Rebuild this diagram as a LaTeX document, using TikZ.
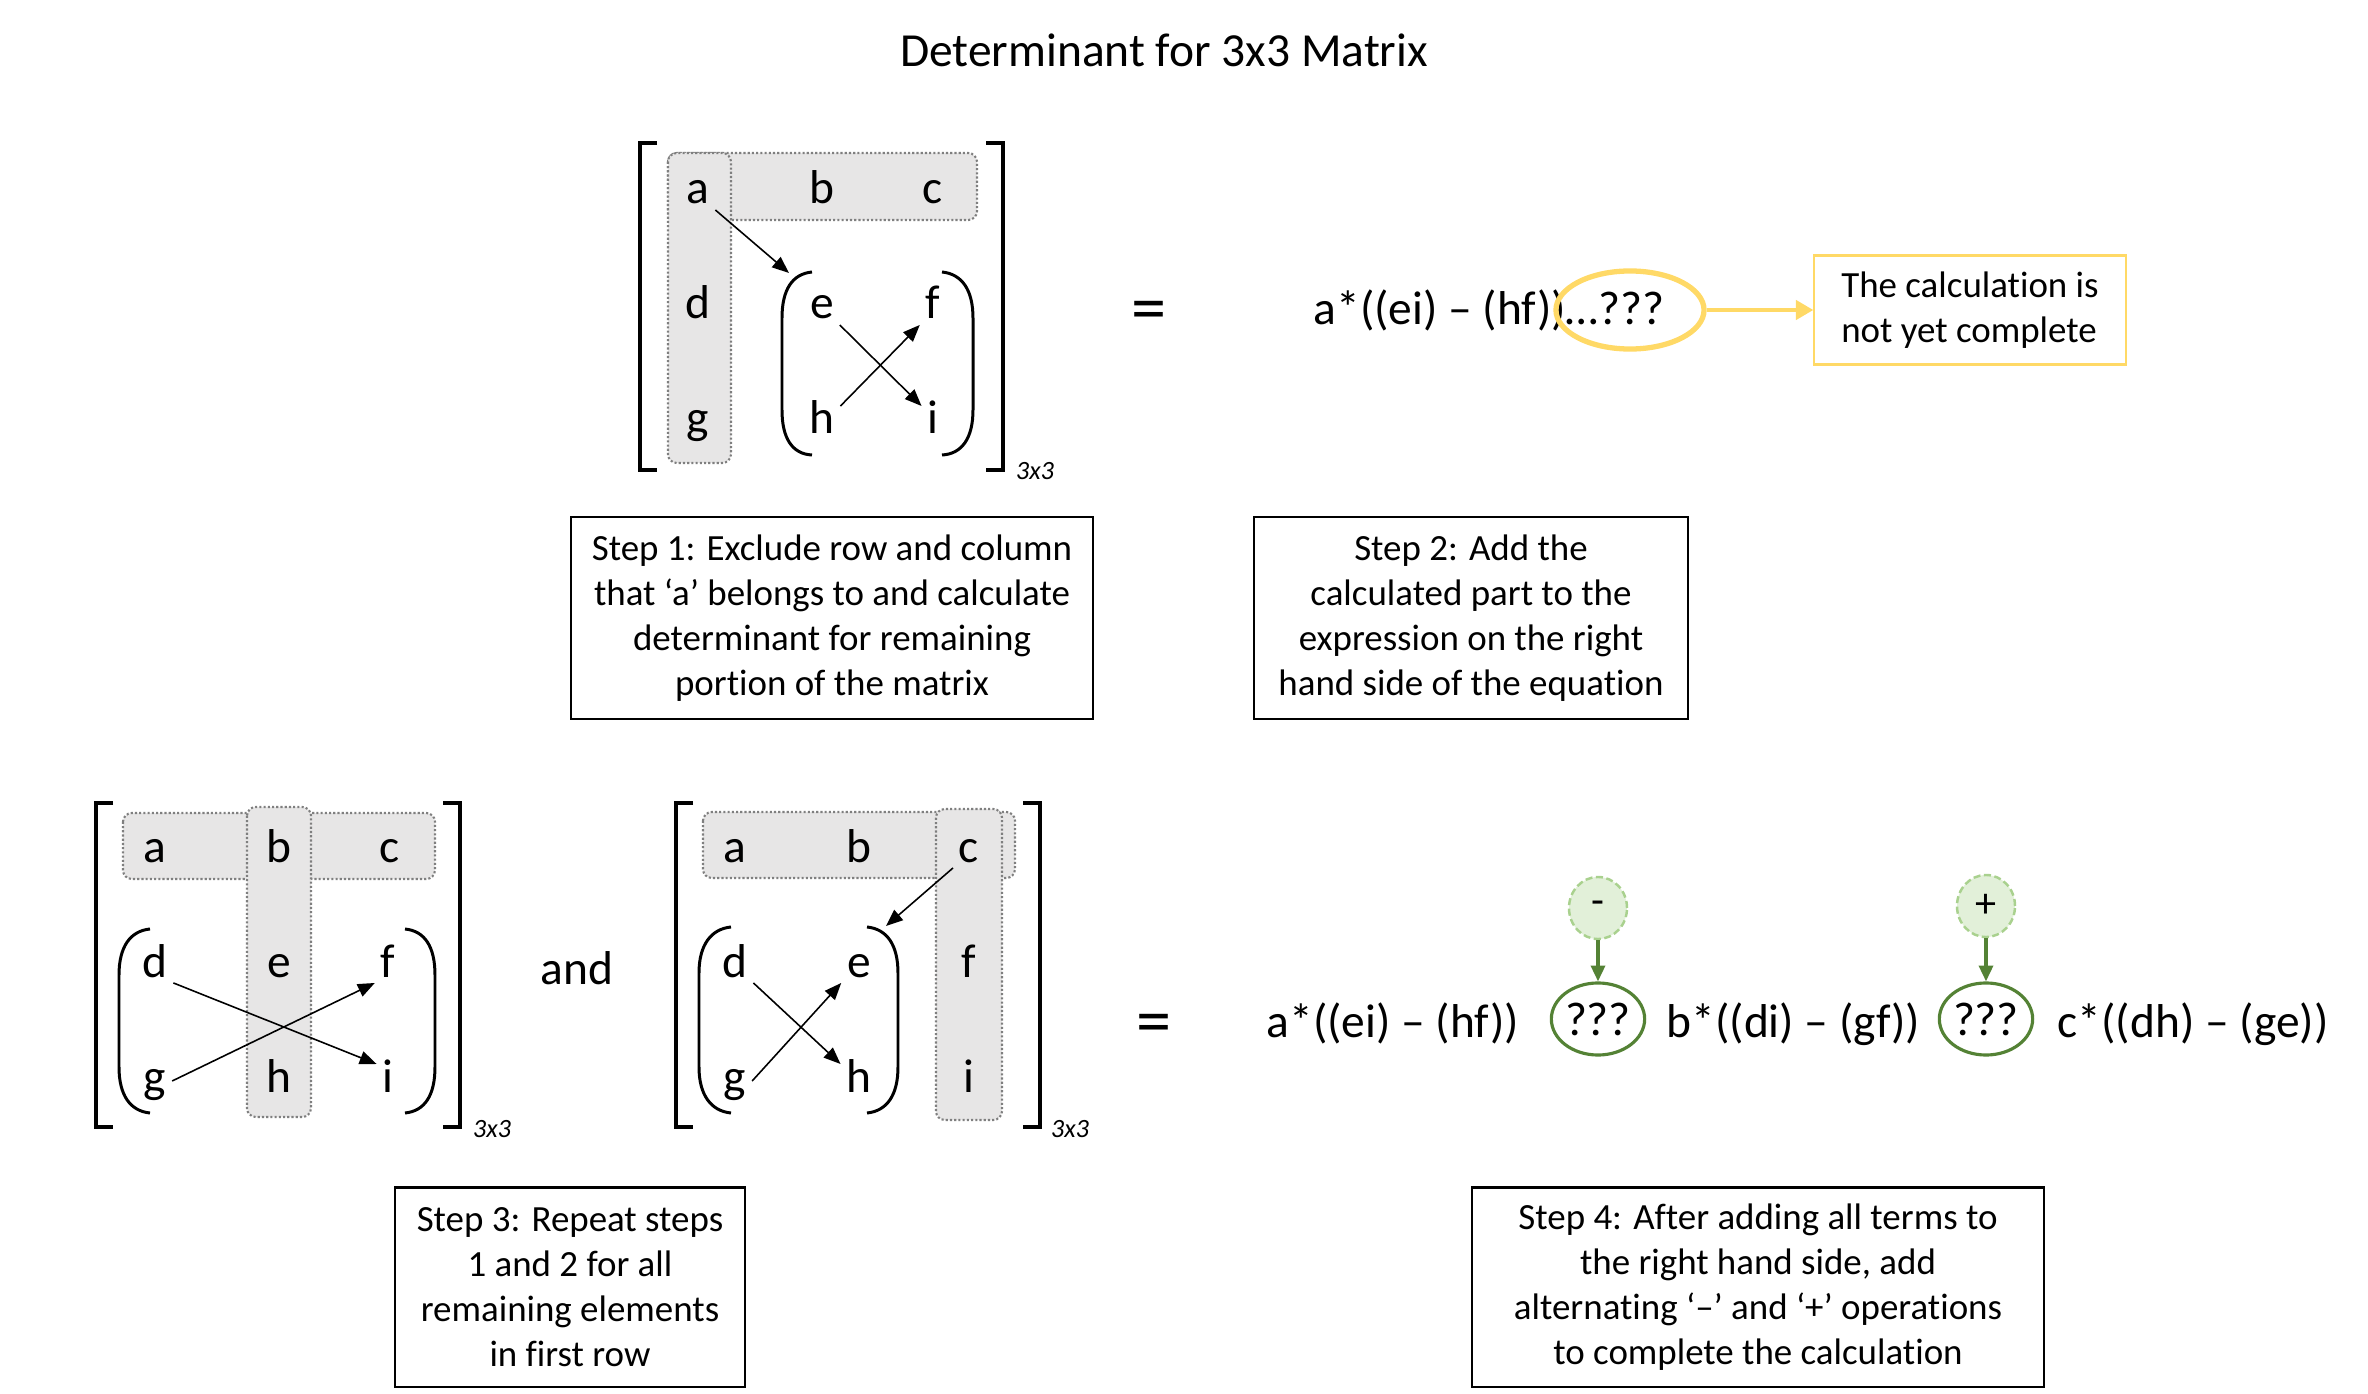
\documentclass[tikz,border=0pt]{standalone}
\usepackage{fontspec}
\setmainfont{Carlito}[Ligatures={TeX,NoCommon}]
\usepackage{xcolor}
\usetikzlibrary{arrows.meta,shapes.geometric}

\definecolor{hlgray}{HTML}{E7E6E6}
\definecolor{dotgray}{HTML}{7F7F7F}
\definecolor{noteyellow}{HTML}{FFD966}
\definecolor{darkgreen}{HTML}{548235}
\definecolor{palegreen}{HTML}{E2F0D9}
\definecolor{midgreen}{HTML}{A9D18E}

\begin{document}
\begin{tikzpicture}[
    x=0.01cm, y=-0.01cm,
    cell/.style={font=\fontsize{13.5}{16}\selectfont, anchor=base, inner sep=1.5pt, text height=0.22cm, text depth=0pt},
    hl/.style={fill=hlgray, draw=dotgray, line width=0.6pt, dash pattern=on 0.6pt off 0.6pt, rounded corners=2.5pt},
    brk/.style={line width=1.1pt},
    paren/.style={line width=0.85pt},
    arrow/.style={-{Triangle[length=4.8pt,width=3.8pt]}, line width=0.45pt},
    expr/.style={font=\fontsize{13.5}{16}\selectfont, anchor=base west, inner sep=0pt},
    eqsign/.style={font=\fontsize{20}{24}\selectfont},
    dimlabel/.style={font=\fontsize{7.5}{9}\selectfont\itshape, anchor=base},
    stepbox/.style={draw, line width=0.6pt, align=center, font=\fontsize{10.5}{12.8}\selectfont},
    qmark/.style={ellipse, draw=darkgreen, line width=0.9pt, minimum width=0.86cm, minimum height=0.72cm, inner sep=0pt, font=\fontsize{13.5}{16}\selectfont},
    sign/.style={ellipse, fill=palegreen, draw=midgreen, dash pattern=on 2pt off 1pt, line width=0.7pt, minimum width=0.58cm, minimum height=0.62cm, inner sep=0pt, font=\fontsize{12}{14}\selectfont},
    garrow/.style={-{Triangle[length=4.5pt,width=4pt]}, darkgreen, line width=0.9pt}
]
\useasboundingbox (0,0) rectangle (2368,1394);

\node[font=\fontsize{13.5}{16}\selectfont, anchor=base] (title) at (1164,67) {Determinant for 3x3 Matrix};

% top matrix
\draw[hl] (668,153) rectangle (977,220);
\draw[hl] (668,153) rectangle (731,463);
\draw[brk] (657,143) -- (640,143) -- (640,470) -- (657,470);
\draw[brk] (986,143) -- (1003,143) -- (1003,470) -- (986,470);
\draw[paren] (812,272) .. controls (792,274) and (782,290) .. (782,318) -- (782,410) .. controls (782,438) and (792,454) .. (812,455);
\draw[paren] (942,272) .. controls (962,274) and (973,290) .. (973,318) -- (973,410) .. controls (973,438) and (962,454) .. (942,455);
\node[cell] (ta) at (698,204) {a}; \node[cell] (tb) at (822,204) {b}; \node[cell] (tc) at (933,204) {c};
\node[cell] (td) at (698,319) {d}; \node[cell] (te) at (822,319) {e}; \node[cell] (tf) at (933,319) {f};
\node[cell] (tg) at (698,434) {g}; \node[cell] (th) at (822,434) {h}; \node[cell] (ti) at (933,434) {i};
\node[dimlabel] (tdim) at (1035,480) {3x3};
\coordinate (tpar) at (789,273);
\draw[arrow] (ta.south east) -- (tpar);
\draw[arrow] (te.south east) -- (ti.north west);
\draw[arrow] (th.north east) -- (tf.south west);

\node[eqsign] (teq) at (1149,316) {=};
\node[expr] (texpr) at (1313,325) {a*((ei) – (hf))…???};
\node[ellipse, draw=noteyellow, line width=1.5pt, minimum width=1.48cm, minimum height=0.78cm] (topq) at (1630,310) {};
\node[draw=noteyellow, line width=0.6pt, minimum width=3.11cm, minimum height=1.09cm, align=left, font=\fontsize{10.5}{12.8}\selectfont] (note) at (1970,310) {The calculation is\\not yet complete};
\draw[-{Triangle[length=5pt,width=5.5pt]}, noteyellow, line width=1.1pt] (topq.east) -- (note.west);

\node[stepbox, minimum width=5.22cm, minimum height=2.01cm] (step1) at (832,618) {Step 1: Exclude row and column\\that ‘a’ belongs to and calculate\\determinant for remaining\\portion of the matrix};
\node[stepbox, minimum width=4.33cm, minimum height=2.01cm] (step2) at (1471,618) {Step 2: Add the\\calculated part to the\\expression on the right\\hand side of the equation};

% bottom left matrix
\draw[hl] (123,813) rectangle (435,879);
\draw[hl] (247,807) rectangle (311,1117);
\draw[brk] (113,803) -- (96,803) -- (96,1127) -- (113,1127);
\draw[brk] (443,803) -- (460,803) -- (460,1127) -- (443,1127);
\draw[paren] (150,929) .. controls (130,931) and (119,947) .. (119,975) -- (119,1067) .. controls (119,1095) and (130,1111) .. (150,1113);
\draw[paren] (405,929) .. controls (425,931) and (435,947) .. (435,975) -- (435,1067) .. controls (435,1095) and (425,1111) .. (405,1113);
\node[cell] (la) at (155,862) {a}; \node[cell] (lb) at (279,862) {b}; \node[cell] (lc) at (390,862) {c};
\node[cell] (ld) at (155,977) {d}; \node[cell] (le) at (279,977) {e}; \node[cell] (lf) at (388,977) {f};
\node[cell] (lg) at (155,1092) {g}; \node[cell] (lh) at (279,1092) {h}; \node[cell] (li) at (388,1092) {i};
\node[dimlabel] (ldim) at (492,1137) {3x3};
\draw[arrow] (ld.south east) -- (li.north west);
\draw[arrow] (lg.east) -- (lf.south west);

\node[font=\fontsize{13.5}{16}\selectfont] (and) at (577,968) {and};

% bottom middle matrix
\draw[hl] (703,812) rectangle (1015,878);
\draw[hl] (936,809) rectangle (1002,1120);
\draw[brk] (693,803) -- (676,803) -- (676,1127) -- (693,1127);
\draw[brk] (1023,803) -- (1040,803) -- (1040,1127) -- (1023,1127);
\draw[paren] (731,927) .. controls (711,929) and (699,945) .. (699,973) -- (699,1067) .. controls (699,1095) and (711,1111) .. (731,1113);
\draw[paren] (867,927) .. controls (887,929) and (898,945) .. (898,973) -- (898,1067) .. controls (898,1095) and (887,1111) .. (867,1113);
\node[cell] (ma) at (735,862) {a}; \node[cell] (mb) at (859,862) {b}; \node[cell] (mc) at (969,862) {c};
\node[cell] (md) at (735,977) {d}; \node[cell] (me) at (859,977) {e}; \node[cell] (mf) at (969,977) {f};
\node[cell] (mg) at (735,1092) {g}; \node[cell] (mh) at (859,1092) {h}; \node[cell] (mi) at (969,1092) {i};
\node[dimlabel] (mdim) at (1070,1137) {3x3};
\coordinate (mpar) at (886,926);
\draw[arrow] (mc.south west) -- (mpar);
\draw[arrow] (md.south east) -- (mh.north west);
\draw[arrow] (mg.east) -- (me.south west);

\node[eqsign] (beq) at (1154,1029) {=};
\node[expr] (bexpr1) at (1266,1037) {a*((ei) – (hf))};
\node[qmark] (q1) at (1598,1019) {???};
\node[expr] (bexpr2) at (1666,1037) {b*((di) – (gf))};
\node[qmark] (q2) at (1986,1019) {???};
\node[expr] (bexpr3) at (2057,1037) {c*((dh) – (ge))};
\node[sign] (minus) at (1598,908) {-};
\node[sign] (plus) at (1986,906) {+};
\draw[garrow] (minus) -- (q1);
\draw[garrow] (plus) -- (q2);

\node[stepbox, minimum width=3.49cm, minimum height=1.99cm] (step3) at (570,1287) {Step 3: Repeat steps\\1 and 2 for all\\remaining elements\\in first row};
\node[stepbox, minimum width=5.71cm, minimum height=1.99cm] (step4) at (1758,1287) {Step 4: After adding all terms to\\the right hand side, add\\alternating ‘–’ and ‘+’ operations\\to complete the calculation};
\end{tikzpicture}
\end{document}
